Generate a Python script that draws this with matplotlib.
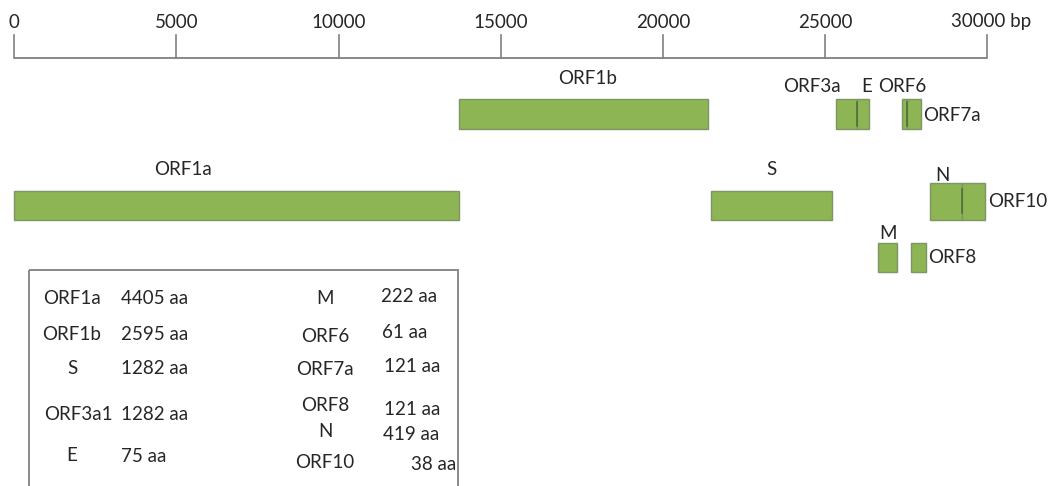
import matplotlib
matplotlib.use("Agg")
import matplotlib.pyplot as plt
from matplotlib.patches import Rectangle

plt.rcParams['font.family'] = ['Lato', 'DejaVu Sans']

# ---------------- data ----------------
ruler_ticks = [0, 5000, 10000, 15000, 20000, 25000, 30000]
ruler_labels = ["0", "5000", "10000", "15000", "20000", "25000", "30000 bp"]

# genome blocks: name, start (bp), end (bp), row
gene_names  = ["ORF1a", "ORF1b", "S", "ORF3a", "E", "M", "ORF6", "ORF7a", "ORF8", "N", "ORF10"]
gene_starts = [0, 13700, 21470, 25320, 25990, 26640, 27360, 27510, 27660, 28230, 29230]
gene_ends   = [13720, 21380, 25210, 25990, 26360, 27220, 27510, 27950, 28110, 29230, 29920]
gene_rows   = ["mid", "top", "mid", "top", "top", "low", "top", "top", "low", "n", "n"]

table_left_names  = ["ORF1a", "ORF1b", "S", "ORF3a1", "E"]
table_left_values = ["4405 aa", "2595 aa", "1282 aa", "1282 aa", "75 aa"]
table_right_names  = ["M", "ORF6", "ORF7a", "ORF8", "N", "ORF10"]
table_right_values = ["222 aa", "61 aa", "121 aa", "121 aa", "419 aa", "38 aa"]

# ---------------- layout ----------------
W, H, DPI = 1049, 486, 100
X0_PX, PX_PER_BP = 14.3, 973.0 / 30000.0

def px2bp(px):
    return (px - X0_PX) / PX_PER_BP

row_y = {"top": (99, 129), "mid": (191, 220), "n": (183, 219.5), "low": (243, 272)}
dividers = {"E": (102, 126), "ORF7a": (102, 126), "ORF10": (189, 213)}

# label placements (pixel x, pixel y, ha)
label_pos = {
    "ORF1a": (183, 169, "center"),
    "ORF1b": (588, 79, "center"),
    "S": (771, 169, "center"),
    "ORF3a": (812, 87, "center"),
    "E": (866.5, 87, "center"),
    "ORF6": (902, 87, "center"),
    "ORF7a": (923, 115, "left"),
    "N": (942, 175, "center"),
    "ORF10": (988, 201, "left"),
    "M": (888, 233, "center"),
    "ORF8": (928, 257, "left"),
}

tl_name_y = [298, 334, 368, 414, 455]
tl_val_y = [298, 334, 368, 414, 456]
tr_name_y = [298, 336, 369, 405, 431, 462]
tr_val_y = [296, 332, 366, 409, 434, 464]
tr_val_x = [381, 382, 384, 384, 383, 411]

TXT = "#262626"
FILL = "#8db553"
EDGE = "#7d9466"
DIV = "#4e6a33"
GRAY = "#808080"
FS = 13.5

fig = plt.figure(figsize=(W / DPI, H / DPI), dpi=DPI)
ax = fig.add_axes([0, 0, 1, 1])
ax.set_xlim(px2bp(0), px2bp(W))
ax.set_ylim(H, 0)
ax.axis("off")

# ruler
ax.plot([ruler_ticks[0], ruler_ticks[-1]], [58, 58], color=GRAY, lw=1.3, solid_capstyle="butt")
for t, lab in zip(ruler_ticks, ruler_labels):
    ax.plot([t, t], [35, 58], color=GRAY, lw=1.2)
    off = 4 if lab.endswith("bp") else 0
    ax.text(t + px2bp(X0_PX + off) , 22, lab, ha="center", va="center", fontsize=FS, color=TXT)

# genes
for name, s, e, r in zip(gene_names, gene_starts, gene_ends, gene_rows):
    y0, y1 = row_y[r]
    ax.add_patch(Rectangle((s, y0), e - s, y1 - y0, facecolor=FILL, edgecolor=EDGE, lw=1.0))
    if name in dividers:
        d0, d1 = dividers[name]
        ax.plot([s, s], [d0, d1], color=DIV, lw=1.1)
for name in gene_names:
    px, py, ha = label_pos[name]
    ax.text(px2bp(px), py, name, ha=ha, va="center", fontsize=FS, color=TXT, clip_on=False)

# table
tax = fig.add_axes([0, 0, 1, 1], facecolor="none")
tax.set_xlim(0, W)
tax.set_ylim(H, 0)
tax.axis("off")
tax.add_patch(Rectangle((29, 270), 429, 260, facecolor="none", edgecolor=GRAY, lw=1.3))
for n, v, yn, yv in zip(table_left_names, table_left_values, tl_name_y, tl_val_y):
    tax.text(72 if n != "ORF3a1" else 78, yn, n, ha="center", va="center", fontsize=FS, color=TXT)
    tax.text(121, yv, v, ha="left", va="center", fontsize=FS, color=TXT)
for n, v, yn, yv, xv in zip(table_right_names, table_right_values, tr_name_y, tr_val_y, tr_val_x):
    tax.text(325, yn, n, ha="center", va="center", fontsize=FS, color=TXT)
    tax.text(xv, yv, v, ha="left", va="center", fontsize=FS, color=TXT)

fig.savefig("out.png", dpi=DPI)
